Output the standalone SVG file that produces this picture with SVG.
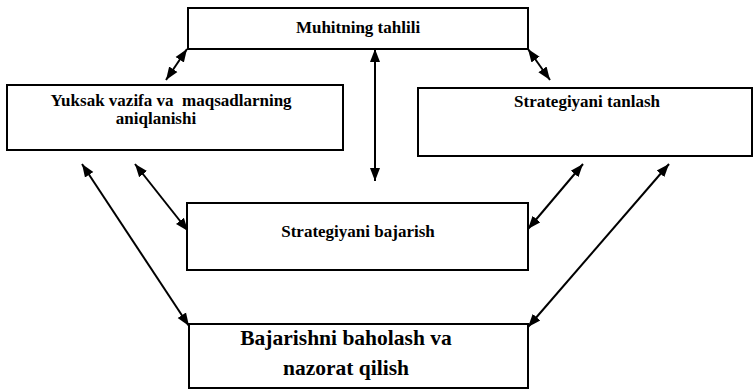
<svg xmlns="http://www.w3.org/2000/svg" width="754" height="390" viewBox="0 0 754 390">
  <style>
    .box { fill: #fff; stroke: #000; stroke-width: 2; }
    .lbl { font-family: "Liberation Serif", "DejaVu Serif", serif; font-weight: 700; font-size: 17px; fill: #000; text-anchor: middle; }
    .big { font-size: 21.5px; }
    .link { stroke: #000; stroke-width: 2; fill: none; marker-start: url(#head); marker-end: url(#head); }
  </style>
  <defs>
    <!-- filled arrowhead used at both ends of every connector -->
    <marker id="head" markerUnits="userSpaceOnUse" markerWidth="15" markerHeight="12" refX="13" refY="6" orient="auto-start-reverse">
      <path d="M0,1 L13,6 L0,11 z" fill="#000"/>
    </marker>
  </defs>
  <rect width="754" height="390" fill="#fff"/>

  <g id="connectors">
    <line class="link" x1="187" y1="49" x2="166" y2="80"/>
    <line class="link" x1="528" y1="49" x2="550" y2="80"/>
    <line class="link" x1="375" y1="49" x2="375" y2="181"/>
    <line class="link" x1="82" y1="164" x2="189" y2="326"/>
    <line class="link" x1="135" y1="164" x2="188" y2="231"/>
    <line class="link" x1="583" y1="164" x2="528" y2="229"/>
    <line class="link" x1="669" y1="164" x2="528" y2="327"/>
  </g>

  <g id="muhit">
    <rect class="box" x="188" y="8" width="340" height="41"/>
    <text class="lbl" x="358" y="33">Muhitning tahlili</text>
  </g>

  <g id="vazifa">
    <rect class="box" x="7" y="85" width="336" height="65"/>
    <text class="lbl" x="171" y="106" xml:space="preserve">Yuksak vazifa va  maqsadlarning</text>
    <text class="lbl" x="156" y="124">aniqlanishi</text>
  </g>

  <g id="tanlash">
    <rect class="box" x="418" y="88" width="334" height="68"/>
    <text class="lbl" x="587" y="107">Strategiyani tanlash</text>
  </g>

  <g id="bajarish">
    <rect class="box" x="187" y="203" width="341" height="67"/>
    <text class="lbl" x="358" y="237">Strategiyani bajarish</text>
  </g>

  <g id="nazorat">
    <rect class="box" x="189" y="324" width="339" height="64"/>
    <text class="lbl big" x="346" y="345">Bajarishni baholash va</text>
    <text class="lbl big" x="346" y="375">nazorat qilish</text>
  </g>
</svg>
